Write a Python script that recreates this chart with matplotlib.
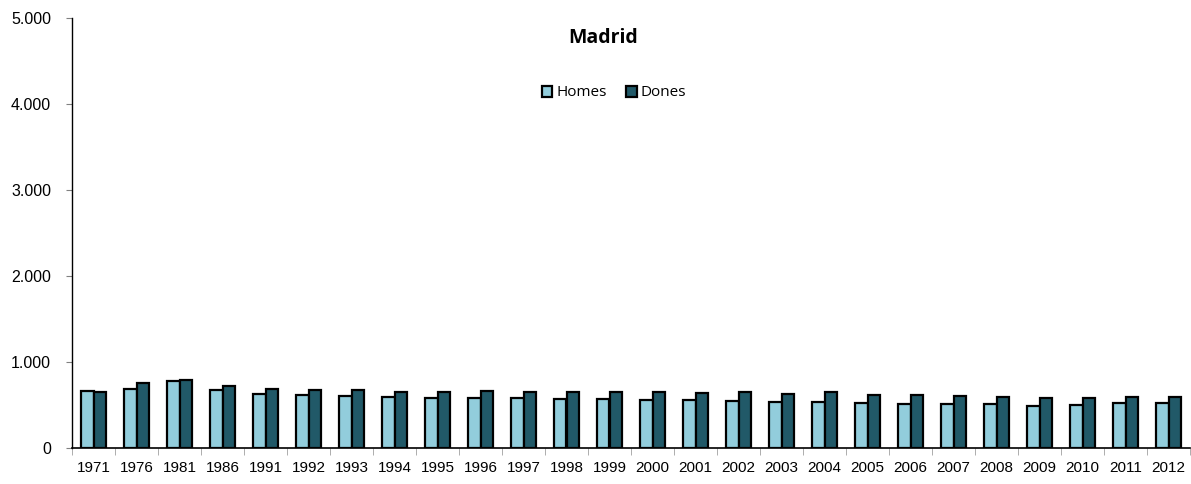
import matplotlib
matplotlib.use("Agg")
import matplotlib.pyplot as plt
import numpy as np
from matplotlib.ticker import FuncFormatter

years = ["1971", "1976", "1981", "1986", "1991", "1992", "1993", "1994", "1995", "1996",
         "1997", "1998", "1999", "2000", "2001", "2002", "2003", "2004", "2005", "2006",
         "2007", "2008", "2009", "2010", "2011", "2012"]
homes = [658, 690, 783, 674, 628, 612, 605, 593, 581, 585,
         577, 574, 574, 562, 554, 543, 535, 535, 519, 508,
         516, 508, 488, 496, 519, 523]
dones = [646, 751, 794, 721, 686, 670, 670, 655, 651, 663,
         655, 647, 651, 651, 640, 647, 632, 647, 616, 612,
         601, 593, 581, 585, 593, 593]

W, H = 1191, 484
fig = plt.figure(figsize=(W / 100, H / 100), dpi=100)
ax = fig.add_axes([72 / W, (H - 448) / H, (1190 - 72) / W, (448 - 18) / H])

x = np.arange(len(years))
bw = 0.29
ax.bar(x - bw / 2, homes, bw, color="#92CDDC", edgecolor="black", linewidth=1.6, label="Homes", zorder=3)
ax.bar(x + bw / 2, dones, bw, color="#215968", edgecolor="black", linewidth=1.6, label="Dones", zorder=3)

ax.set_xlim(-0.5, len(years) - 0.5)
ax.set_ylim(0, 5000)
ax.set_yticks([0, 1000, 2000, 3000, 4000, 5000])
ax.yaxis.set_major_formatter(FuncFormatter(lambda v, p: f"{int(v):,}".replace(",", ".")))

ax.set_xticks(x)
ax.set_xticklabels(years, fontfamily="Liberation Sans", fontsize=11)
ax.tick_params(axis="x", length=0, pad=9)
ax.set_xticks(np.arange(-0.5, len(years)), minor=True)
ax.tick_params(axis="x", which="minor", length=5, color="#a0a0a0", direction="out")
for lab in ax.get_yticklabels():
    lab.set_fontfamily("Liberation Sans")
    lab.set_fontsize(11.5)
ax.tick_params(axis="y", length=4, color="#808080", direction="out", pad=11)

for s in ["top", "right"]:
    ax.spines[s].set_visible(False)
ax.spines["left"].set_color("black")
ax.spines["bottom"].set_color("black")
ax.spines["left"].set_linewidth(1.0)
ax.spines["bottom"].set_linewidth(1.2)

fig.text(603 / W, 1 - 38 / H, "Madrid", ha="center", va="center", fontsize=14,
         fontweight="bold", fontfamily="Open Sans")
leg = fig.legend(loc="center", bbox_to_anchor=(614 / W, 1 - 93 / H), ncol=2, frameon=False,
                 prop={"family": "Open Sans", "size": 11}, handlelength=0.7, handleheight=0.7,
                 handletextpad=0.25, columnspacing=1.3)

fig.savefig("out.png", dpi=100)
